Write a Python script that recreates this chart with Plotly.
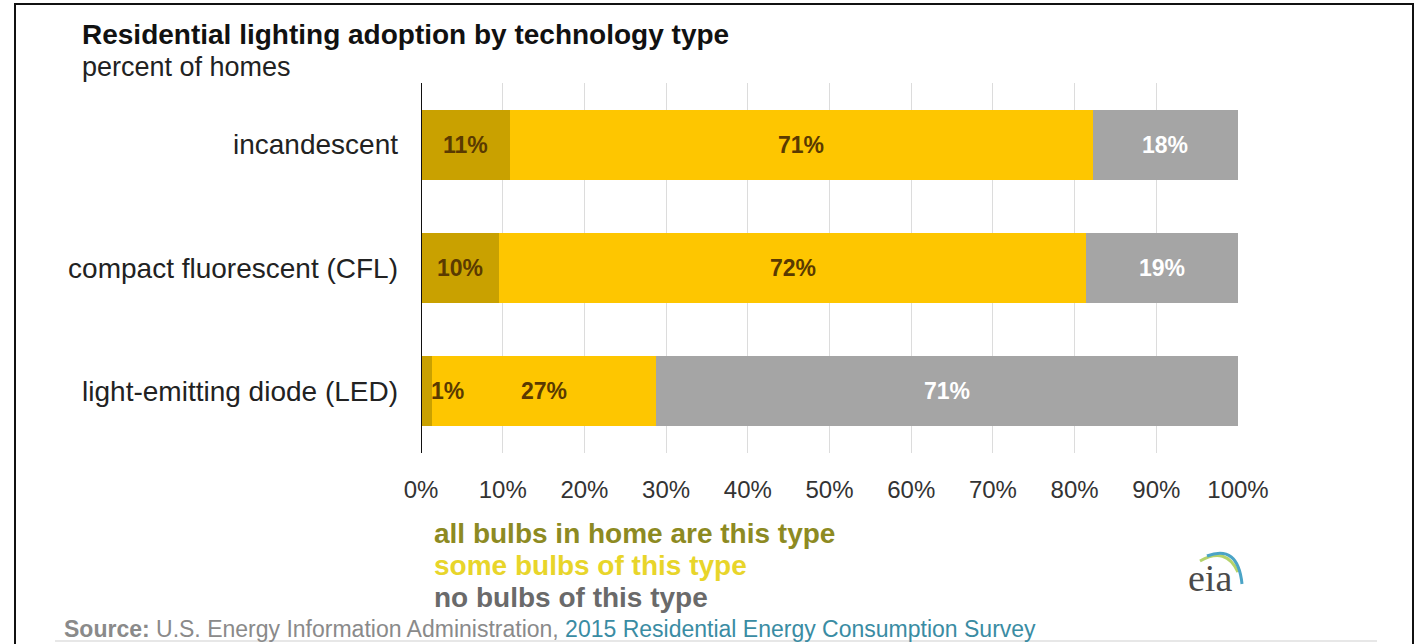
import plotly.graph_objects as go

# ---- data (percent of homes) ----
categories = ["incandescent", "compact fluorescent (CFL)", "light-emitting diode (LED)"]
all_bulbs = [10.9, 9.6, 1.4]
some_bulbs = [71.3, 71.8, 27.4]
no_bulbs = [17.8, 18.6, 71.2]
series_names = ["all bulbs in home are this type", "some bulbs of this type", "no bulbs of this type"]
x_ticks = [0, 10, 20, 30, 40, 50, 60, 70, 80, 90, 100]
x_tick_labels = [f"{v}%" for v in x_ticks]

# ---- styles ----
bar_colors = ["#c9a100", "#fec600", "#a5a5a5"]
label_colors = ["#5a3a00", "#5a3a00", "#ffffff"]
legend_colors = ["#8d8a22", "#e8d52a", "#6a6a6a"]
FONT = "Liberation Sans, Arial, sans-serif"

W, H = 1419, 644
PL, PR, PT, PB = 421, 1238, 83, 453  # plot area pixel box


def X(px):
    return (px - PL) / (PR - PL)


def Y(py):
    return (PB - py) / (PB - PT)


fig = go.Figure()
series = [all_bulbs, some_bulbs, no_bulbs]
for vals, name, col in zip(series, series_names, bar_colors):
    fig.add_trace(go.Bar(
        y=categories, x=vals, name=name, orientation="h",
        marker=dict(color=col, line=dict(width=0)),
        width=0.57, showlegend=False, hoverinfo="x+y",
    ))

annotations = []
# data labels computed from the series
for ci, cat in enumerate(categories):
    start = 0.0
    for si, vals in enumerate(series):
        v = vals[ci]
        txt = f"{round(v)}%"
        lab_font = dict(family=FONT, size=23, color=label_colors[si], weight="bold")
        if v < 5:
            annotations.append(dict(x=start + v, y=cat, xref="x", yref="y", text=txt,
                                    xanchor="left", xshift=-3, showarrow=False, font=lab_font))
        else:
            annotations.append(dict(x=start + v / 2, y=cat, xref="x", yref="y", text=txt,
                                    xanchor="center", showarrow=False, font=lab_font))
        start += v

# title & subtitle
annotations.append(dict(x=X(80), y=Y(34), xref="paper", yref="paper", xanchor="left", yanchor="middle",
                        text="<b>Residential lighting adoption by technology type</b>", showarrow=False,
                        font=dict(family=FONT, size=28, color="#111111")))
annotations.append(dict(x=X(80), y=Y(67), xref="paper", yref="paper", xanchor="left", yanchor="middle",
                        text="percent of homes", showarrow=False,
                        font=dict(family=FONT, size=27, color="#222222")))
# legend text lines
for i, (name, col) in enumerate(zip(series_names, legend_colors)):
    annotations.append(dict(x=X(432), y=Y(533 + 32 * i), xref="paper", yref="paper",
                            xanchor="left", yanchor="middle", text=f"<b>{name}</b>", showarrow=False,
                            font=dict(family=FONT, size=28, color=col)))
# source
annotations.append(dict(x=X(62), y=Y(629), xref="paper", yref="paper", xanchor="left", yanchor="middle",
                        text="<b>Source:</b> U.S. Energy Information Administration, "
                             "<span style='color:#3a8ca3'>2015 Residential Energy Consumption Survey</span>",
                        showarrow=False, font=dict(family=FONT, size=23, color="#8a8a8a")))
# eia logo text
annotations.append(dict(x=X(1210), y=Y(578), xref="paper", yref="paper", xanchor="center", yanchor="middle",
                        text="eia", showarrow=False,
                        font=dict(family="Liberation Serif, DejaVu Serif, serif", size=38, color="#4a4a4a")))

shapes = [
    # frame
    dict(type="rect", xref="paper", yref="paper", x0=X(15), x1=X(1413), y0=Y(4), y1=Y(660),
         line=dict(color="#111111", width=2), fillcolor="rgba(0,0,0,0)", layer="above"),
    # thin line under source
    dict(type="line", xref="paper", yref="paper", x0=X(55), x1=X(1377), y0=Y(641), y1=Y(641),
         line=dict(color="#cfcfcf", width=1)),
    # logo arcs
    dict(type="path", xref="paper", yref="paper",
         path=f"M {X(1200)},{Y(561)} Q {X(1226)},{Y(546)} {X(1238)},{Y(572)}",
         line=dict(color="#b5d36a", width=3)),
    dict(type="path", xref="paper", yref="paper",
         path=f"M {X(1207)},{Y(556)} Q {X(1238)},{Y(544)} {X(1242)},{Y(584)}",
         line=dict(color="#4ba4c6", width=3)),
]

fig.update_layout(
    width=W, height=H,
    barmode="stack", bargap=0.43,
    margin=dict(l=PL, r=W - PR, t=PT, b=H - PB, pad=0),
    paper_bgcolor="white", plot_bgcolor="white",
    xaxis=dict(range=[0, 100], tickvals=x_ticks, ticktext=x_tick_labels,
               showgrid=True, gridcolor="#dcdcdc", gridwidth=1, zeroline=False,
               showline=False, ticks="", ticklabelstandoff=20,
               tickfont=dict(family=FONT, size=24, color="#333333"), fixedrange=True),
    yaxis=dict(categoryorder="array", categoryarray=categories[::-1],
               showgrid=False, zeroline=False, showline=False, ticks="",
               ticklabelstandoff=22,
               tickfont=dict(family=FONT, size=28, color="#222222"), fixedrange=True),
    annotations=annotations, shapes=shapes,
)
# vertical axis line at 0%
fig.add_shape(type="line", xref="x", yref="paper", x0=0, x1=0, y0=0, y1=1,
              line=dict(color="#111111", width=2), layer="above")

fig.write_html("out.html", config={"displayModeBar": False},
               post_script="document.body.style.margin='0';document.body.style.overflow='hidden';")
